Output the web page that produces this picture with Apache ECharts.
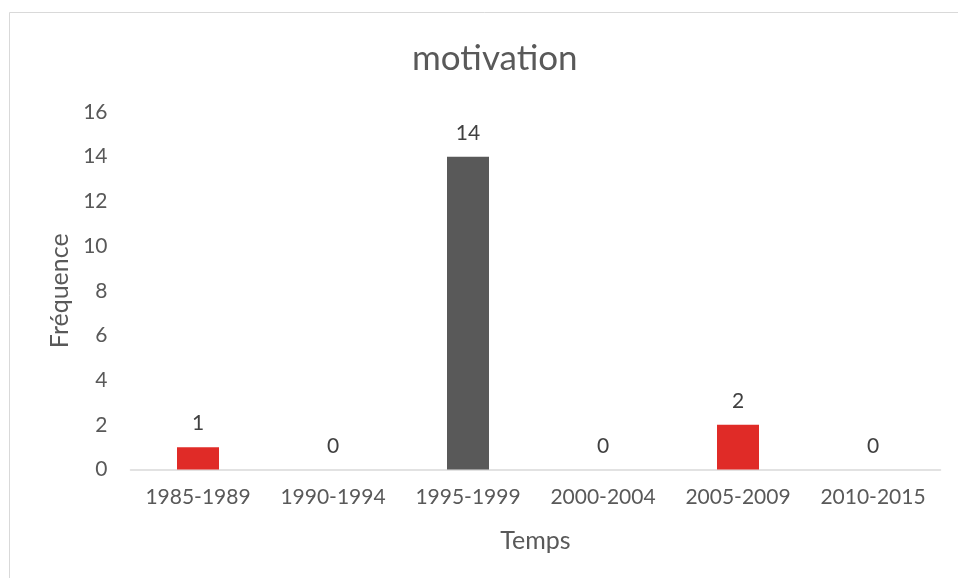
<!DOCTYPE html>
<html><head><meta charset="utf-8">
<script src="https://cdn.jsdelivr.net/npm/echarts@6/dist/echarts.min.js"></script>
<style>html,body{margin:0;padding:0;background:#fff}#c{width:958px;height:578px}</style>
</head><body><div id="c"></div>
<script>
const categories = ['1985-1989','1990-1994','1995-1999','2000-2004','2005-2009','2010-2015'];
const values = [1, 0, 14, 0, 2, 0];
const barColors = ['#E02B27','#E02B27','#595959','#E02B27','#E02B27','#E02B27'];
const yTicks = {min: 0, max: 16, interval: 2};
const FONT = 'Lato, "Liberation Sans", sans-serif';
const chart = echarts.init(document.getElementById('c'));
chart.setOption({
  animation: false,
  backgroundColor: '#fff',
  graphic: [{type: 'rect', shape: {x: 9.5, y: 12.5, width: 960, height: 580}, style: {fill: 'none', stroke: '#D9D9D9', lineWidth: 1}, silent: true}],
  title: {text: 'motivation', left: 407, top: 36, textStyle: {fontFamily: FONT, fontSize: 35, fontWeight: 'normal', color: '#595959'}},
  grid: {left: 130.5, right: 17.5, top: 112, bottom: 108.5},
  xAxis: {
    type: 'category', data: categories,
    name: 'Temps', nameLocation: 'middle', nameGap: 59,
    nameTextStyle: {fontFamily: FONT, fontSize: 25, color: '#595959'},
    axisLine: {lineStyle: {color: '#D9D9D9', width: 1.5}},
    axisTick: {show: false},
    axisLabel: {interval: 0, fontFamily: FONT, fontSize: 21, color: '#595959', margin: 17}
  },
  yAxis: {
    type: 'value', min: yTicks.min, max: yTicks.max, interval: yTicks.interval,
    name: 'Fréquence', nameLocation: 'middle', nameGap: 58, nameRotate: 90,
    nameTextStyle: {fontFamily: FONT, fontSize: 25, color: '#595959'},
    axisLine: {show: false}, axisTick: {show: false}, splitLine: {show: false},
    axisLabel: {fontFamily: FONT, fontSize: 21, color: '#595959', margin: 23}
  },
  series: [{
    type: 'bar', barWidth: 42,
    data: values.map((v, i) => ({value: v, itemStyle: {color: barColors[i]}})),
    label: {show: true, position: 'top', distance: 13, fontFamily: FONT, fontSize: 21, color: '#404040'}
  }]
});
</script></body></html>
